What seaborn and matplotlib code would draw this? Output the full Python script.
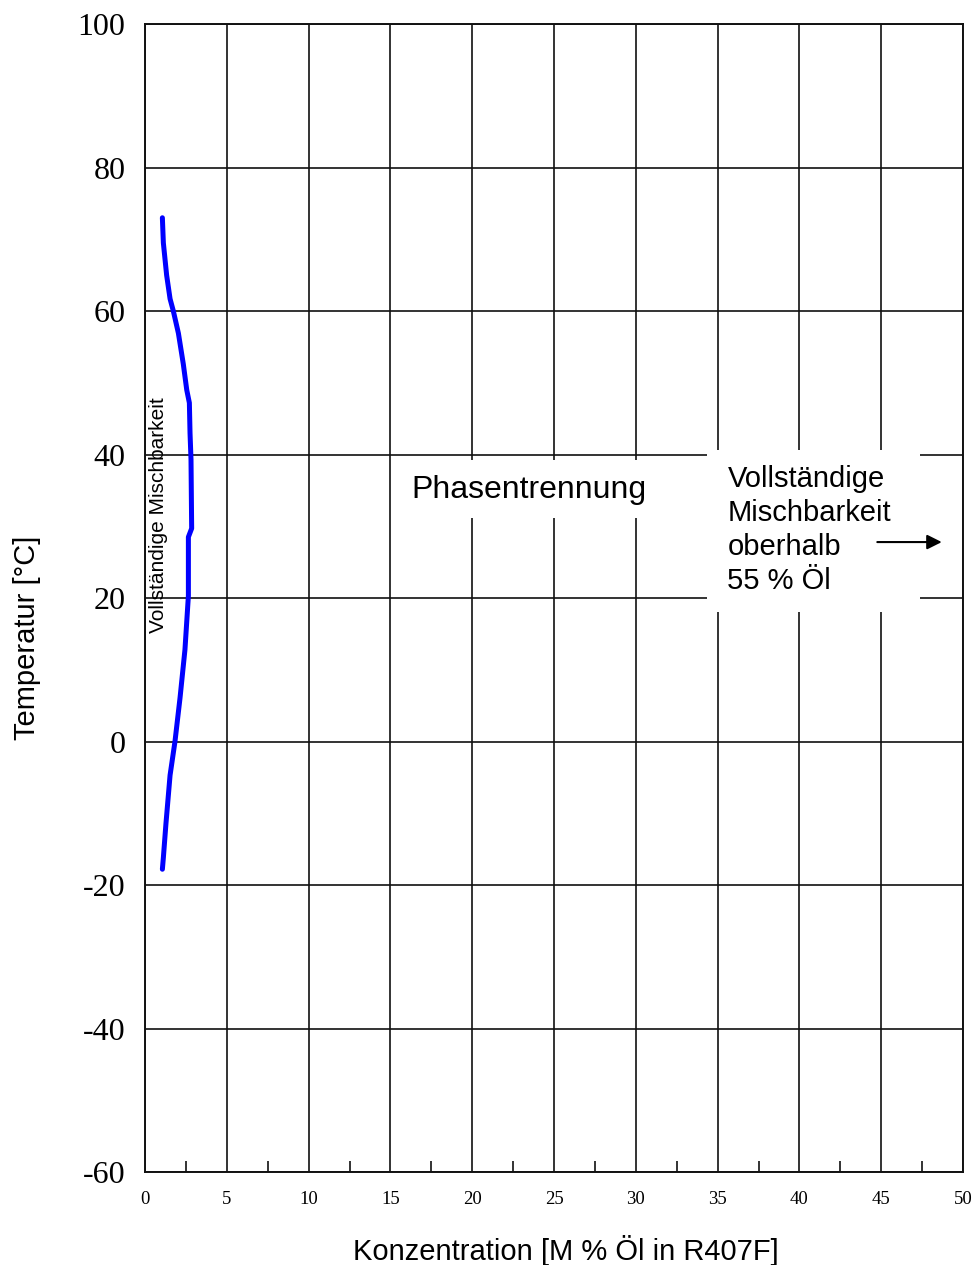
import numpy as np
import pandas as pd
import seaborn as sns
import matplotlib
matplotlib.use('Agg')
import matplotlib.pyplot as plt
from matplotlib.patches import Rectangle
from matplotlib.ticker import MultipleLocator

# Mischungslücke R407F / Öl
konz_oel = [1.06, 1.12, 1.32, 1.53, 1.73, 2.04, 2.34, 2.55, 2.71, 2.75, 2.81,
            2.85, 2.65, 2.65, 2.44, 2.14, 1.83, 1.53, 1.28, 1.12, 1.06]
temperatur = [73.0, 69.5, 65.0, 61.7, 60.0, 56.9, 52.6, 49.0, 47.2, 43.0, 39.3,
              29.7, 28.5, 20.3, 12.8, 6.1, 0.0, -4.7, -11.4, -16.2, -17.8]

x_ticks = [0, 5, 10, 15, 20, 25, 30, 35, 40, 45, 50]
y_ticks = [-60, -40, -20, 0, 20, 40, 60, 80, 100]

df = pd.DataFrame({'konz': konz_oel, 'temp': temperatur})

sns.set_style('white')
plt.rcParams['font.family'] = ['Liberation Sans', 'DejaVu Sans']
plt.rcParams['axes.unicode_minus'] = False
plt.rcParams['text.color'] = 'black'
plt.rcParams['axes.labelcolor'] = 'black'
plt.rcParams['xtick.color'] = 'black'
plt.rcParams['ytick.color'] = 'black'

fig = plt.figure(figsize=(9.76, 12.65), dpi=100)
ax = fig.add_axes([0.1486, 0.0735, 0.8381, 0.9075])

# Kurve
sns.lineplot(data=df, x='konz', y='temp', sort=False, estimator=None,
             color='#0000ff', linewidth=3.6, ax=ax, zorder=4)

ax.set_xlim(0, 50)
ax.set_ylim(-60, 100)
ax.set_xticks(x_ticks)
ax.set_yticks(y_ticks)
ax.xaxis.set_minor_locator(MultipleLocator(2.5))

# Gitter
ax.grid(True, which='major', color='#111111', linewidth=1.2)
ax.set_axisbelow(True)
for s in ax.spines.values():
    s.set_visible(True)
    s.set_color('#111111')
    s.set_linewidth(1.4)

ax.tick_params(axis='x', which='major', length=0, pad=14)
ax.tick_params(axis='x', which='minor', direction='in', length=8, width=1.2,
               color='#111111', bottom=True)
ax.tick_params(axis='y', which='major', length=0, pad=14)

for lab in ax.get_xticklabels():
    lab.set_fontfamily('Liberation Serif')
    lab.set_fontsize(13.5)
for lab in ax.get_yticklabels():
    lab.set_fontfamily('Liberation Serif')
    lab.set_fontsize(23)

ax.set_xlabel('Konzentration [M % Öl in R407F]', fontsize=21, va='center')
ax.set_ylabel('Temperatur [°C]', fontsize=21, va='center')
ax.xaxis.set_label_coords(0.515, -0.068)
ax.yaxis.set_label_coords(-0.144, 0.465)

# Beschriftungen im Diagramm
ax.text(0.8, 31.6, 'Vollständige Mischbarkeit', rotation=90, fontsize=15,
        ha='center', va='center', zorder=5)

ax.add_patch(Rectangle((15.15, 31.15), 16.9, 8.08, facecolor='white',
                       edgecolor='none', zorder=3))
ax.text(16.3, 35.05, 'Phasentrennung', fontsize=23, ha='left', va='center',
        zorder=5)

ax.add_patch(Rectangle((34.35, 18.05), 13.05, 22.58, facecolor='white',
                       edgecolor='none', zorder=3))
ax.text(35.6, 29.48, 'Vollständige\nMischbarkeit\noberhalb\n55 % Öl',
        fontsize=21, ha='left', va='center', linespacing=1.27, zorder=5)
ax.annotate('', xy=(48.7, 27.8), xytext=(44.76, 27.8),
            arrowprops=dict(arrowstyle='-|>', color='black', lw=1.5,
                            mutation_scale=22, shrinkA=0, shrinkB=0),
            zorder=6)

fig.savefig('out.png', dpi=100)
